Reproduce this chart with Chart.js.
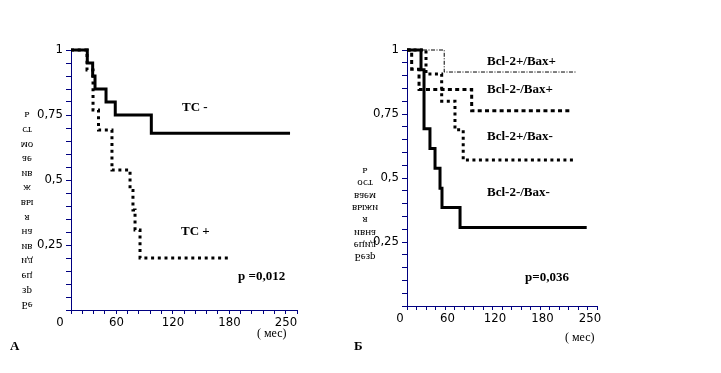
<!DOCTYPE html>
<html>
<head>
<meta charset="utf-8">
<script src="https://cdn.jsdelivr.net/npm/chart.js@4"></script>
<style>
  body { margin: 0; background: #fff; }
  #wrap { position: relative; width: 721px; height: 373px; }
  #panelA { position: absolute; left: 0; top: 0; }
  #panelB { position: absolute; left: 340px; top: 0; }
</style>
</head>
<body>
<div id="wrap">
  <canvas id="panelA" width="340" height="373"></canvas>
  <canvas id="panelB" width="381" height="373"></canvas>
</div>
<script>
/* --------------- Data (months, survival) --------------------- */
const tcMinusTime = [0, 17.3, 23, 25.5, 37.2, 47, 85.3, 232.6];
const tcMinusSurv = [1, 0.95, 0.9, 0.85, 0.8, 0.75, 0.68, 0.68];
const tcPlusTime = [0, 17, 23.4, 29.2, 43.5, 62.7, 65.8, 68, 73.3, 170];
const tcPlusSurv = [1, 0.923, 0.769, 0.692, 0.538, 0.46, 0.385, 0.308, 0.2, 0.2];

const bcl2pBaxpTime = [0, 47, 213.5];
const bcl2pBaxpSurv = [1, 0.914, 0.914];
const bcl2mBaxpTime = [0, 5.9, 15.2, 81.7, 206];
const bcl2mBaxpSurv = [1, 0.925, 0.846, 0.763, 0.763];
const bcl2pBaxmTime = [0, 24, 43.8, 60.6, 71, 214];
const bcl2pBaxmSurv = [1, 0.906, 0.8, 0.688, 0.57, 0.57];
const bcl2mBaxmTime = [0, 17.7, 21.5, 29, 35.4, 41.7, 44.2, 67, 227];
const bcl2mBaxmSurv = [1, 0.923, 0.692, 0.615, 0.538, 0.46, 0.385, 0.307, 0.307];

const xTickLabels = { 0: "0", 60: "60", 120: "120", 180: "180", 240: "250" };
const yTickLabels = { 100: "1", 75: "0,75", 50: "0,5", 25: "0,25" };

const titleA = ["Бе", "зр", "ец", "ид", "ив", "на", "я", "вы", "ж", "ив", "ае", "мо", "ст", "ь"];
const titleB = ["Безр", "ецид", "ивна", "я", "выжи", "ваем", "ост", "ь"];

/* --------------- Helpers --------------------- */
const navy = "#000080";
const tickFont = { family: "'Liberation Sans Narrow', 'DejaVu Sans Condensed', sans-serif", size: 13 };

function points(times, surv) {
  return times.map((t, i) => ({ x: t, y: surv[i] }));
}

function curve(times, surv, width, dash) {
  return {
    data: points(times, surv),
    borderColor: "#000",
    borderWidth: width,
    borderDash: dash,
    borderCapStyle: "butt",
    stepped: "before",
    pointRadius: 0,
    fill: false,
    clip: false,
  };
}

// texts drawn on top: normal ones and the upside-down axis title
const textPlugin = {
  id: "texts",
  afterDraw(chart, args, opts) {
    const ctx = chart.ctx;
    ctx.save();
    ctx.fillStyle = "#000";
    ctx.textBaseline = "middle";
    for (const t of opts.items || []) {
      ctx.font = t.font;
      ctx.textAlign = t.align || "left";
      ctx.fillText(t.text, t.x, t.y);
    }
    // flipped title, first line at the bottom
    ctx.font = "11px 'Liberation Serif', serif";
    ctx.textAlign = "center";
    const f = opts.flip;
    if (f) {
      f.lines.forEach((line, i) => {
        ctx.save();
        ctx.translate(f.x, f.bottom - i * f.step);
        ctx.scale(1, -1);
        ctx.fillText(line, 0, 0);
        ctx.restore();
      });
    }
    ctx.restore();
  },
};

function makeOptions(axisW, axisH, padRight, labelOffset, texts, flip) {
  return {
    responsive: false,
    animation: false,
    layout: { padding: { left: 0, top: 50, right: padRight, bottom: 0 } },
    plugins: {
      legend: { display: false },
      tooltip: { enabled: false },
      texts: { items: texts, flip: flip },
    },
    scales: {
      x: {
        type: "linear",
        min: 0,
        max: 240,
        afterFit: (s) => { s.height = axisH; },
        border: { color: navy, width: 1 },
        grid: { drawOnChartArea: false, color: navy, tickLength: 4 },
        ticks: {
          stepSize: 12,
          autoSkip: false,
          maxRotation: 0,
          labelOffset: labelOffset,
          padding: 1,
          color: "#000",
          font: tickFont,
          callback: (v) => (xTickLabels[v] !== undefined ? xTickLabels[v] : ""),
        },
      },
      y: {
        min: 0,
        max: 1,
        afterFit: (s) => { s.width = axisW; },
        border: { color: navy, width: 1 },
        grid: { drawOnChartArea: false, color: navy, tickLength: 5 },
        ticks: {
          stepSize: 0.05,
          autoSkip: false,
          padding: 3,
          color: "#000",
          font: tickFont,
          callback: (v) => yTickLabels[Math.round(v * 100)] || "",
        },
      },
    },
  };
}

const boldFont = "bold 13px 'Liberation Serif', serif";
const smallFont = "12px 'Liberation Serif', serif";

/* --------------- Panel A --------------------- */
new Chart(document.getElementById("panelA"), {
  type: "line",
  plugins: [textPlugin],
  data: {
    datasets: [
      curve(tcMinusTime, tcMinusSurv, 3, []),
      curve(tcPlusTime, tcPlusSurv, 3, [3, 3.7]),
    ],
  },
  options: makeOptions(71, 63, 43, -11, [
    { text: "TC -", x: 182, y: 108, font: boldFont },
    { text: "TC +", x: 181, y: 232, font: boldFont },
    { text: "p =0,012", x: 238, y: 277, font: boldFont },
    { text: "( мес)", x: 257, y: 334, font: smallFont },
    { text: "А", x: 10, y: 347, font: boldFont },
  ], { lines: titleA, x: 27, bottom: 305, step: 14.6 }),
});

/* --------------- Panel B --------------------- */
new Chart(document.getElementById("panelB"), {
  type: "line",
  plugins: [textPlugin],
  data: {
    datasets: [
      curve(bcl2pBaxpTime, bcl2pBaxpSurv, 1, [4, 1.5, 1, 1.5]),
      curve(bcl2mBaxpTime, bcl2mBaxpSurv, 3, [4, 3.3]),
      curve(bcl2pBaxmTime, bcl2pBaxmSurv, 3, [3, 3.5]),
      curve(bcl2mBaxmTime, bcl2mBaxmSurv, 3, []),
    ],
  },
  options: makeOptions(67, 67, 124, -7, [
    { text: "Bcl-2+/Bax+", x: 147, y: 62, font: boldFont },
    { text: "Bcl-2-/Bax+", x: 147, y: 90, font: boldFont },
    { text: "Bcl-2+/Bax-", x: 147, y: 137, font: boldFont },
    { text: "Bcl-2-/Bax-", x: 147, y: 193, font: boldFont },
    { text: "p=0,036", x: 185, y: 278, font: boldFont },
    { text: "( мес)", x: 225, y: 338, font: smallFont },
    { text: "Б", x: 14, y: 347, font: boldFont },
  ], { lines: titleB, x: 25, bottom: 257, step: 12.3 }),
});
</script>
</body>
</html>
